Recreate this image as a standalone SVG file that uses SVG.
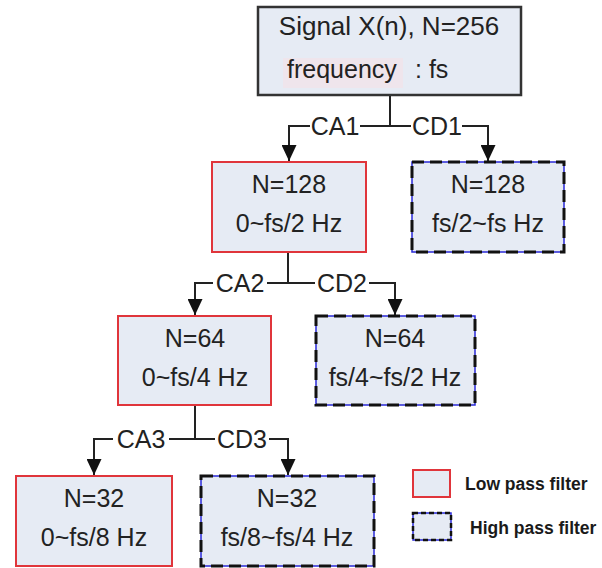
<svg xmlns="http://www.w3.org/2000/svg" width="602" height="568" viewBox="0 0 602 568">
  <style>
    text { font-family: "Liberation Sans", Arial, sans-serif; fill: #222; }
    .t { font-size: 25px; text-anchor: middle; }
    .lbl { font-size: 25px; text-anchor: middle; }
    .leg { font-size: 17.5px; font-weight: bold; fill: #1a1a1a; }
    .top { fill: #e6ebf4; stroke: #333; stroke-width: 2.5; }
    .low { fill: #e6ebf4; stroke: #e0353b; stroke-width: 2; }
    .hiBase { fill: #e6ebf4; stroke: #2a2ad6; stroke-width: 1.5; }
    .hiDash { fill: none; stroke: #111; stroke-width: 3; stroke-dasharray: 12 6; }
    .conn { fill: none; stroke: #222; stroke-width: 2; }
  </style>
  <defs>
    <marker id="arr" viewBox="0 0 16 15" refX="16" refY="7.5" markerWidth="16" markerHeight="15" markerUnits="userSpaceOnUse" orient="auto">
      <path d="M0,0 L16,7.5 L0,15 z" fill="#111"/>
    </marker>
  </defs>

  <rect width="602" height="568" fill="#ffffff"/>

  <g id="connectors">
    <path class="conn" d="M390,95 V126 M360,126 H411"/>
    <path class="conn" d="M310,126 H289 V161" marker-end="url(#arr)"/>
    <path class="conn" d="M462,126 H488 V161" marker-end="url(#arr)"/>
    <path class="conn" d="M288,252 V283 M267,283 H315"/>
    <path class="conn" d="M213,283 H195 V315" marker-end="url(#arr)"/>
    <path class="conn" d="M369,283 H395 V315" marker-end="url(#arr)"/>
    <path class="conn" d="M195,405 V439 M169,439 H215"/>
    <path class="conn" d="M113,439 H94 V475" marker-end="url(#arr)"/>
    <path class="conn" d="M269,439 H288 V475" marker-end="url(#arr)"/>
    <text class="lbl" x="335" y="135">CA1</text>
    <text class="lbl" x="437" y="135">CD1</text>
    <text class="lbl" x="240" y="292">CA2</text>
    <text class="lbl" x="342" y="292">CD2</text>
    <text class="lbl" x="141" y="448">CA3</text>
    <text class="lbl" x="242" y="448">CD3</text>
  </g>

  <g id="signal">
    <rect class="top" x="258" y="7" width="263" height="88"/>
    <rect x="283" y="58" width="120" height="30" fill="#efe5ec"/>
    <text x="389" y="35" style="font-size:26px;text-anchor:middle">Signal X(n), N=256</text>
    <text x="287" y="78" style="font-size:25px">frequency<tspan x="415">: fs</tspan></text>
  </g>

  <g id="ca1">
    <rect class="low" x="212" y="162" width="154" height="90"/>
    <text class="t" x="289" y="193">N=128</text>
    <text class="t" x="289" y="232">0~fs/2 Hz</text>
  </g>
  <g id="cd1">
    <rect class="hiBase" x="412" y="162" width="152" height="90"/>
    <rect class="hiDash" x="412" y="162" width="152" height="90"/>
    <text class="t" x="488" y="193">N=128</text>
    <text class="t" x="488" y="232">fs/2~fs Hz</text>
  </g>

  <g id="ca2">
    <rect class="low" x="118" y="316" width="153" height="89"/>
    <text class="t" x="195" y="347">N=64</text>
    <text class="t" x="195" y="386">0~fs/4 Hz</text>
  </g>
  <g id="cd2">
    <rect class="hiBase" x="316" y="316" width="159" height="89"/>
    <rect class="hiDash" x="316" y="316" width="159" height="89"/>
    <text class="t" x="395" y="347">N=64</text>
    <text class="t" x="395" y="386">fs/4~fs/2 Hz</text>
  </g>

  <g id="ca3">
    <rect class="low" x="16" y="476" width="156" height="90"/>
    <text class="t" x="94" y="507">N=32</text>
    <text class="t" x="94" y="546">0~fs/8 Hz</text>
  </g>
  <g id="cd3">
    <rect class="hiBase" x="201" y="476" width="173" height="90"/>
    <rect class="hiDash" x="201" y="476" width="173" height="90"/>
    <text class="t" x="287" y="507">N=32</text>
    <text class="t" x="287" y="546">fs/8~fs/4 Hz</text>
  </g>

  <g id="legend">
    <rect class="low" x="413" y="470" width="37" height="27"/>
    <text class="leg" x="465" y="490">Low pass filter</text>
    <rect class="hiBase" x="413" y="513" width="38" height="27"/>
    <rect x="413" y="513" width="38" height="27" fill="none" stroke="#111" stroke-width="2.5" stroke-dasharray="5 3"/>
    <text class="leg" x="470" y="534">High pass filter</text>
  </g>
</svg>
